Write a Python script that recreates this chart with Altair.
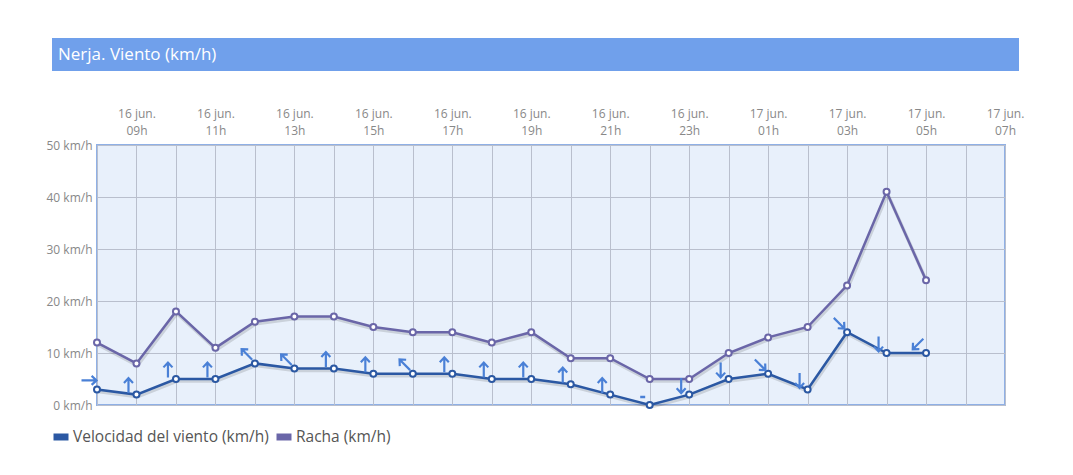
import json
import altair as alt
import pandas as pd

# ---------------- data ----------------
title_text = "Nerja. Viento (km/h)"
series_names = ["Velocidad del viento (km/h)", "Racha (km/h)"]
series_colors = ["#2b58a3", "#6a66a8"]

# hourly samples from 16 jun 08h to 17 jun 05h (index 0 = 08h)
velocidad = [3, 2, 5, 5, 8, 7, 7, 6, 6, 6, 5, 5, 4, 2, 0, 2, 5, 6, 3, 14, 10, 10]
racha = [12, 8, 18, 11, 16, 17, 17, 15, 14, 14, 12, 14, 9, 9, 5, 5, 10, 13, 15, 23, 41, 24]
direccion = ["→", "↑", "↑", "↑", "↖", "↖", "↑", "↑", "↖", "↑", "↑",
             "↑", "↑", "↑", "calma", "↓", "↓", "↘", "↓", "↘", "↓", "↙"]

# axis tick labels (every second hour, starting 09h)
label_days = ["16 jun."] * 8 + ["17 jun."] * 4
label_hours = ["09h", "11h", "13h", "15h", "17h", "19h", "21h", "23h",
               "01h", "03h", "05h", "07h"]
y_ticks = [0, 10, 20, 30, 40, 50]

# ---------------- tables ----------------
n = len(velocidad)
idx = list(range(n))
long_df = pd.DataFrame({
    "t": idx + idx,
    "serie": [series_names[0]] * n + [series_names[1]] * n,
    "value": velocidad + racha,
})

angle_map = {"↑": 0, "↗": 45, "→": 90, "↘": 135, "↓": 180, "↙": 225, "←": 270, "↖": 315}
arrow_df = pd.DataFrame({
    "t": idx,
    "value": velocidad,
    "dir": direccion,
    "angle": [angle_map.get(d, 0) for d in direccion],
})
arrows = arrow_df[arrow_df["dir"] != "calma"]
calm = arrow_df[arrow_df["dir"] == "calma"]

n_ticks = 24
tick_labels = []
k = 0
for i in range(n_ticks):
    if i % 2 == 1:
        tick_labels.append([label_days[k], label_hours[k]])
        k += 1
    else:
        tick_labels.append("")
x_label_expr = json.dumps(tick_labels) + "[datum.value]"

# ---------------- chart ----------------
FONT = "Open Sans"
xscale = alt.Scale(domain=[0, n_ticks - 1], nice=False, zero=False)
yscale = alt.Scale(domain=[0, 50], nice=False)

x_enc = alt.X(
    "t:Q", scale=xscale,
    axis=alt.Axis(orient="top", values=list(range(n_ticks)), labelExpr=x_label_expr,
                  grid=True, ticks=False, domain=False, title=None,
                  labelOverlap=False, labelFlush=False,
                  labelFontSize=12, labelColor="#888", labelPadding=25,
                  labelLineHeight=17, gridColor="#b9bfcd", gridWidth=1),
)
y_enc = alt.Y(
    "value:Q", scale=yscale,
    axis=alt.Axis(values=y_ticks, labelExpr="datum.value + ' km/h'",
                  grid=True, ticks=False, domain=False, title=None,
                  labelFontSize=12, labelColor="#888", labelPadding=5,
                  gridColor="#b9bfcd", gridWidth=1),
)
color_scale = alt.Scale(domain=series_names, range=series_colors)

title_df = pd.DataFrame({"txt": [title_text]})
bar = alt.Chart(title_df).mark_rect(color="#70a0eb").encode(
    x=alt.value(-45), x2=alt.value(922), y=alt.value(-107), y2=alt.value(-74)
)
bar_text = alt.Chart(title_df).mark_text(
    align="left", baseline="middle", color="white", fontSize=17, font=FONT
).encode(x=alt.value(-39), y=alt.value(-90), text="txt:N")

base = alt.Chart(long_df)
shadow = base.mark_line(color="#000000", opacity=0.13, strokeWidth=3.5,
                        xOffset=1, yOffset=2).encode(
    x=x_enc, y=y_enc, detail="serie:N")
lines = base.mark_line(strokeWidth=2.5).encode(
    x=x_enc, y=y_enc,
    color=alt.Color("serie:N", scale=color_scale, sort=series_names,
                    legend=alt.Legend(title=None, orient="none", legendX=-47,
                                      legendY=281, direction="horizontal",
                                      symbolType="M-1,0L1,0", symbolSize=225,
                                      symbolStrokeWidth=7, labelFontSize=15.5,
                                      labelColor="#555", labelFont=FONT,
                                      labelLimit=0,
                                      columnPadding=-7, labelOffset=1)),
)
points = base.mark_circle(size=36, strokeWidth=2, opacity=1).encode(
    x=x_enc, y=y_enc,
    fill=alt.value("white"),
    stroke=alt.Stroke("serie:N", scale=color_scale, legend=None),
)
arrow_marks = alt.Chart(arrows).mark_point(
    shape="M0,1L0,-1M-0.6,-0.35L0,-1L0.6,-0.35", size=225, filled=False,
    strokeWidth=2.2, color="#4a80d6", opacity=1, xOffset=-8, yOffset=-9,
).encode(x=x_enc, y=y_enc, angle=alt.Angle("angle:Q", scale=None))
calm_marks = alt.Chart(calm).mark_point(
    shape="M-1,0L1,0", size=25, filled=False, strokeWidth=2.5,
    color="#4a80d6", opacity=1, xOffset=-7, yOffset=-8,
).encode(x=x_enc, y=y_enc)

chart = alt.layer(bar, bar_text, shadow, lines, points, arrow_marks, calm_marks).properties(
    width=908, height=260,
    padding={"left": 37, "top": 30, "right": 5, "bottom": 5},
    background="white",
).configure(font=FONT).configure_view(
    fill="#e8f0fb", stroke="#8fb0e6", strokeWidth=2
)

chart.save("out.html", embed_options={"renderer": "svg", "actions": False})
